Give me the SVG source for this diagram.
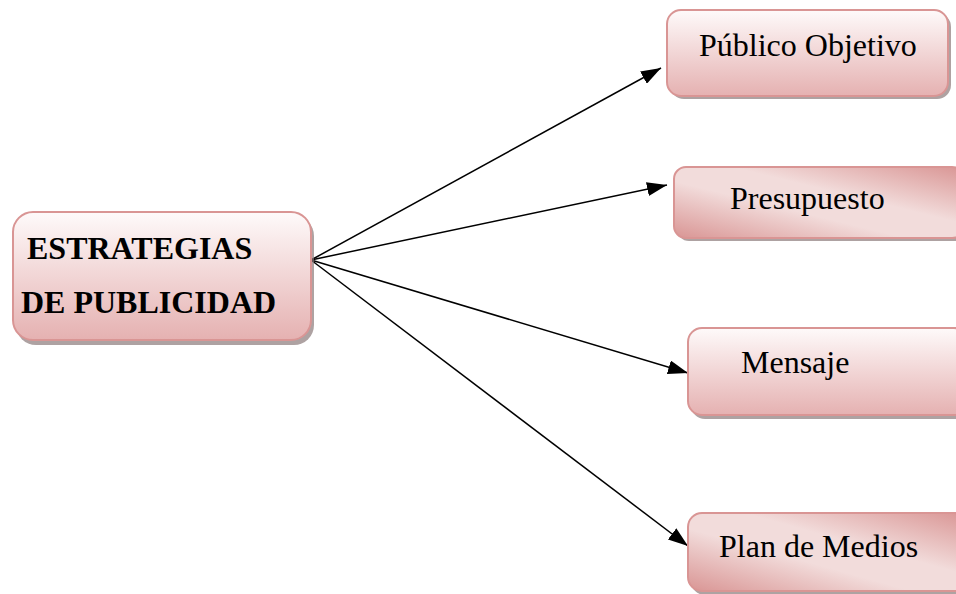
<svg xmlns="http://www.w3.org/2000/svg" width="956" height="594" viewBox="0 0 956 594">
<style>
.box{stroke:#d99594;stroke-width:2}
.sh{fill:#8c7a7a;opacity:0.7}
.t{font-family:"Liberation Serif","Times New Roman",serif;font-size:32px;fill:#000}
.b{font-weight:bold}
.c{stroke:#000;stroke-width:1.5;fill:none;marker-end:url(#ah)}
</style>
<defs>
<linearGradient id="gv" x1="0" y1="0" x2="0" y2="1">
<stop offset="0" stop-color="#fefafa"/>
<stop offset="1" stop-color="#e5b1b1"/>
</linearGradient>
<linearGradient id="gd" x1="0" y1="1" x2="1" y2="0">
<stop offset="0" stop-color="#d99594"/>
<stop offset="0.4" stop-color="#f2dcdb"/>
<stop offset="0.6" stop-color="#f2dcdb"/>
<stop offset="1" stop-color="#d99594"/>
</linearGradient>
<marker id="ah" viewBox="0 0 20 14" refX="20" refY="7" markerWidth="20" markerHeight="14" markerUnits="userSpaceOnUse" orient="auto">
<path d="M0,0 L20,7 L0,14 z" fill="#000"/>
</marker>
</defs>
<g id="connectors">
<line class="c" x1="311" y1="260" x2="661" y2="68"/>
<line class="c" x1="311" y1="260" x2="667" y2="185"/>
<line class="c" x1="311" y1="260" x2="688" y2="373"/>
<line class="c" x1="311" y1="260" x2="688" y2="546"/>
</g>
<g id="n0">
<rect class="sh" x="16" y="216" width="298" height="129" rx="20"/>
<rect class="box" x="13" y="212" width="298" height="128" rx="20" fill="url(#gv)"/>
<text class="t b" x="27" y="259">ESTRATEGIAS</text>
<text class="t b" x="21" y="313">DE PUBLICIDAD</text>
</g>
<g id="n1">
<rect class="sh" x="670" y="13" width="281" height="86" rx="14"/>
<rect class="box" x="667" y="10" width="281" height="86" rx="14" fill="url(#gv)"/>
<text class="t" x="699" y="56">Público Objetivo</text>
</g>
<g id="n2">
<rect class="sh" x="677" y="171" width="290" height="70" rx="12"/>
<rect class="box" x="674" y="167" width="290" height="71" rx="12" fill="url(#gd)"/>
<text class="t" x="730" y="209">Presupuesto</text>
</g>
<g id="n3">
<rect class="sh" x="691" y="332" width="280" height="87" rx="14"/>
<rect class="box" x="688" y="328" width="280" height="87" rx="14" fill="url(#gv)"/>
<text class="t" x="741" y="373">Mensaje</text>
</g>
<g id="n4">
<rect class="sh" x="691" y="517" width="280" height="78" rx="14"/>
<rect class="box" x="688" y="513" width="280" height="78" rx="14" fill="url(#gd)"/>
<text class="t" x="719" y="557">Plan de Medios</text>
</g>
</svg>
